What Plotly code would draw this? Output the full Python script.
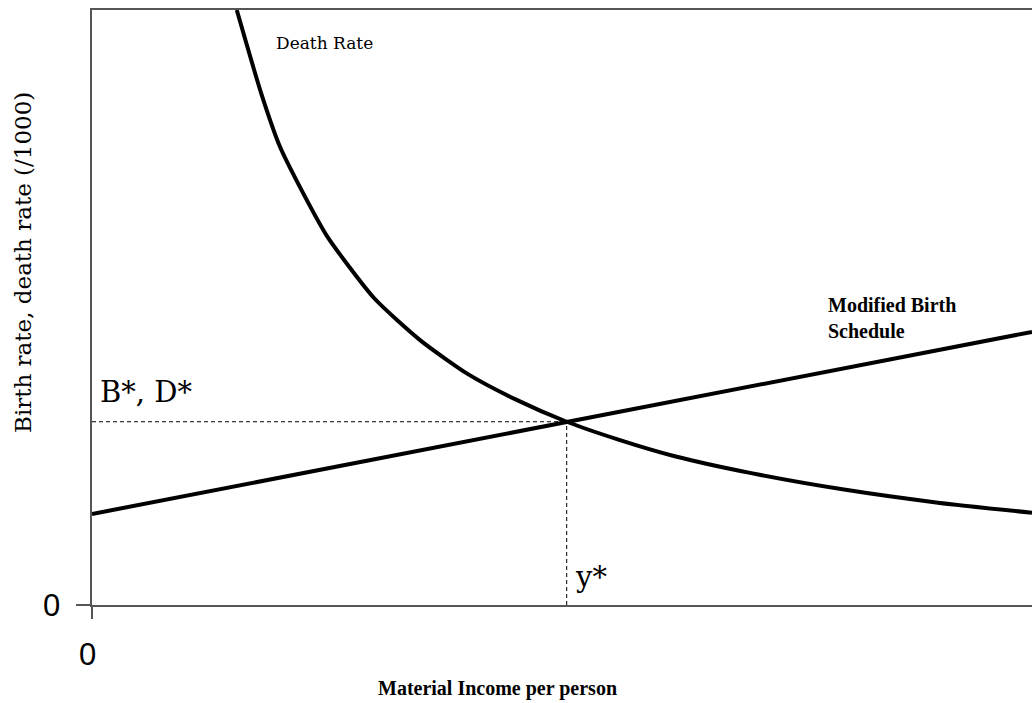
import plotly.graph_objects as go

# ---- data (chart units: income 0-100, rate 0-50) ----
death_x = [15.4, 18.0, 20.0, 22.0, 25.0, 30.0, 35.0, 40.0, 45.0, 50.5, 56.0, 62.0, 70.0, 80.0, 90.0, 100.0]
death_y = [50.0, 43.0, 38.5, 35.3, 31.0, 25.8, 22.2, 19.4, 17.3, 15.4, 13.9, 12.5, 11.1, 9.7, 8.6, 7.75]
birth_x = [0.0, 100.0]
birth_y = [7.65, 22.95]
eq_x = 50.5
eq_y = 15.4
x_ticks = [0]
y_ticks = [0]

W, H = 1032, 703
L, R, T, B = 92, 0, 10, 98
PW, PH = W - L - R, H - T - B


def px(xp):
    return (xp - L) / PW


def py(yp):
    return (H - B - yp) / PH


fig = go.Figure()
# equilibrium guides
fig.add_trace(go.Scatter(x=[0, eq_x], y=[eq_y, eq_y], mode="lines",
                         line=dict(color="black", width=1, dash="4px,3px"), hoverinfo="skip"))
fig.add_trace(go.Scatter(x=[eq_x, eq_x], y=[0, eq_y], mode="lines",
                         line=dict(color="black", width=1, dash="4px,3px"), hoverinfo="skip"))
# curves
fig.add_trace(go.Scatter(x=death_x, y=death_y, mode="lines", name="Death Rate",
                         line=dict(color="black", width=4, shape="spline", smoothing=0.6)))
fig.add_trace(go.Scatter(x=birth_x, y=birth_y, mode="lines", name="Modified Birth Schedule",
                         line=dict(color="black", width=4)))

serif = "DejaVu Serif"
times = "Liberation Serif"
sans = "Liberation Sans"

ann = []
ann.append(dict(text="Death Rate", x=px(274), y=py(43), xref="paper", yref="paper",
                xanchor="left", yanchor="middle", showarrow=False,
                font=dict(family=serif, size=17, color="black")))
ann.append(dict(text="<b>Modified Birth</b><br><b>Schedule</b>", x=px(826), y=py(318),
                xref="paper", yref="paper", xanchor="left", yanchor="middle", align="left",
                showarrow=False, font=dict(family=times, size=20, color="black")))
ann.append(dict(text="B*, D*", x=px(98), y=py(392), xref="paper", yref="paper",
                xanchor="left", yanchor="middle", showarrow=False,
                font=dict(family=serif, size=29, color="black")))
ann.append(dict(text="y*", x=px(573), y=py(577), xref="paper", yref="paper",
                xanchor="left", yanchor="middle", showarrow=False,
                font=dict(family=serif, size=29, color="black")))
ann.append(dict(text="0", x=px(62), y=py(605), xref="paper", yref="paper",
                xanchor="right", yanchor="middle", showarrow=False,
                font=dict(family=sans, size=31, color="black")))
ann.append(dict(text="0", x=px(87), y=py(654), xref="paper", yref="paper",
                xanchor="center", yanchor="middle", showarrow=False,
                font=dict(family=sans, size=31, color="black")))
ann.append(dict(text="<b>Material Income per person</b>", x=px(497), y=py(688),
                xref="paper", yref="paper", xanchor="center", yanchor="middle",
                showarrow=False, font=dict(family=times, size=20, color="black")))
ann.append(dict(text="Birth rate, death rate (/1000)", x=px(23), y=py(263),
                xref="paper", yref="paper", xanchor="center", yanchor="middle",
                textangle=-90, showarrow=False,
                font=dict(family=serif, size=23, color="black")))

fig.update_layout(
    width=W, height=H,
    margin=dict(l=L, r=R, t=T, b=B, pad=0),
    paper_bgcolor="white", plot_bgcolor="white",
    showlegend=False,
    annotations=ann,
    xaxis=dict(range=[0, 100], showgrid=False, zeroline=False, showline=True,
               linecolor="#555555", linewidth=1.5, mirror=True,
               ticks="outside", tickvals=x_ticks, ticklen=12, tickwidth=1.5,
               tickcolor="#555555", showticklabels=False, fixedrange=True),
    yaxis=dict(range=[0, 50], showgrid=False, zeroline=False, showline=True,
               linecolor="#555555", linewidth=1.5, mirror=False,
               ticks="outside", tickvals=y_ticks, ticklen=14, tickwidth=1.5,
               tickcolor="#555555", showticklabels=False, fixedrange=True),
)

fig.write_html("out.html", config={"displayModeBar": False},
               post_script="document.body.style.margin='0';document.body.style.padding='0';document.body.style.overflow='hidden';")
